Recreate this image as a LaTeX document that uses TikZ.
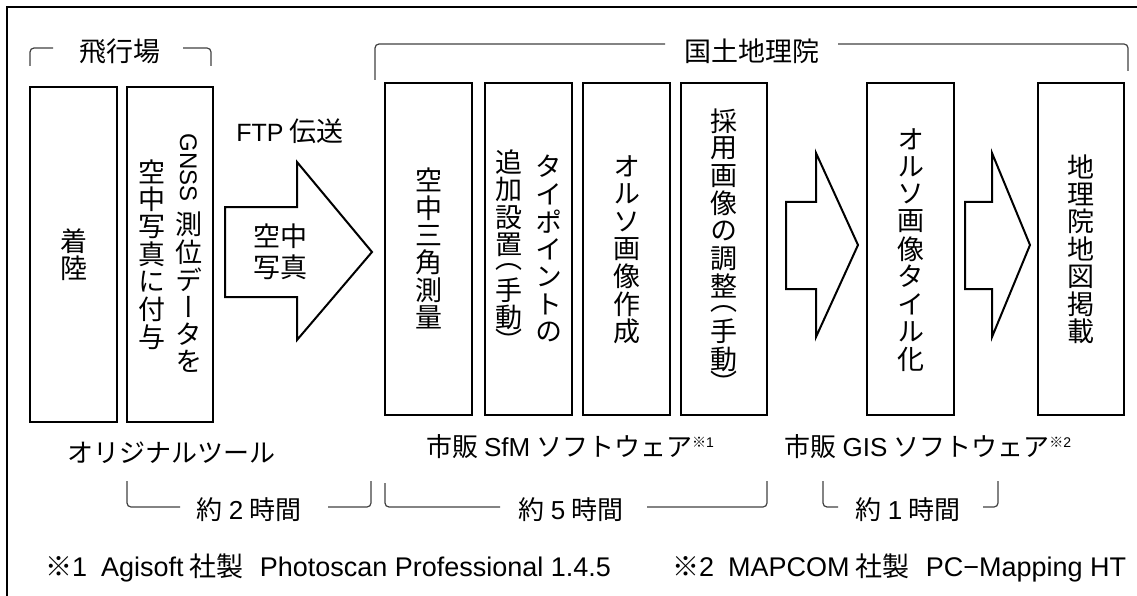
\documentclass[tikz,border=0pt]{standalone}
\usepackage{fontspec}
\usepackage{graphicx}
\setmainfont{Noto Sans CJK JP}
\newfontfamily\vfont[RawFeature=+vert]{Noto Sans CJK JP}
\newfontfamily\lat{Liberation Sans}
\newlength\pitch
\setlength\pitch{27.5pt}
\newcommand\K[1]{\vbox to \pitch{\vss\hbox to 30pt{\hss#1\hss}\vss}}
\newcommand\KH[2]{\vbox to #1{\vss\hbox to 30pt{\hss#2\hss}\vss}}
\newcommand\KN[1]{\hbox to 30pt{\hss#1\hss}}
\newcommand\vcol[1]{$\vcenter{\offinterlineskip#1}$}
\newcommand\sups[1]{\raisebox{9pt}{\fontsize{14}{14}\selectfont ※{\lat #1}}}
\tikzset{
  boxA/.style={draw, line width=2pt, minimum width=87pt, minimum height=335pt, inner sep=0pt,
    font=\vfont\fontsize{27}{27}\selectfont},
  boxB/.style={boxA, minimum height=332pt},
  blk/.style={draw, line width=2pt, fill=white, line join=miter},
  brk/.style={line width=1.2pt, draw=black!75, rounded corners=4pt},
  lbl/.style={inner sep=0pt, font=\fontsize{27}{31}\selectfont},
  lblb/.style={inner sep=0pt, font=\fontsize{26}{30}\selectfont},
  lblf/.style={inner sep=0pt, font=\fontsize{27}{30}\selectfont},
  frm/.style={line width=2pt}
}
\begin{document}
\begin{tikzpicture}[x=1pt,y=-1pt]
\useasboundingbox (0,0) rectangle (1137,596);
% frame
\coordinate (f0) at (7,600);
\coordinate (f1) at (7,7);
\coordinate (f2) at (1140,7);
\draw[frm] (f0) -- (f1) -- (f2);

% boxes
\node[boxA] (b1) at (73.5,254.5) {\vcol{\K{着}\K{陸}}};
\node[boxA, minimum width=86pt] (b2) at (170,254.5) {\vcol{\K{空}\K{中}\K{写}\K{真}\K{に}\K{付}\K{与}}\hspace{7pt}\vcol{\KN{\rotatebox{-90}{\lat\fontsize{24}{24}\selectfont GNSS}}\kern9pt\K{測}\K{位}\K{デ}\K{ー}\K{タ}\K{を}}};
\node[boxB] (b3) at (428.5,249) {\vcol{\K{空}\K{中}\K{三}\K{角}\K{測}\K{量}}};
\node[boxB] (b4) at (528.5,249) {\vcol{\K{追}\K{加}\K{設}\K{置}\KH{18pt}{（}\K{手}\K{動}\KH{18pt}{）}}\hspace{10pt}\vcol{\K{タ}\K{イ}\K{ポ}\K{イ}\K{ン}\K{ト}\K{の}}};
\node[boxB] (b5) at (626.5,249) {\vcol{\K{オ}\K{ル}\K{ソ}\K{画}\K{像}\K{作}\K{成}}};
\node[boxB, minimum width=86pt] (b6) at (724,249) {\vcol{\K{採}\K{用}\K{画}\K{像}\K{の}\K{調}\K{整}\KH{18pt}{（}\K{手}\K{動}\KH{18pt}{）}}};
\node[boxB] (b7) at (910.5,249) {\vcol{\K{オ}\K{ル}\K{ソ}\K{画}\K{像}\K{タ}\K{イ}\K{ル}\K{化}}};
\node[boxB, minimum width=86pt] (b8) at (1081,249) {\vcol{\K{地}\K{理}\K{院}\K{地}\K{図}\K{掲}\K{載}}};

% block arrows
\draw[blk] (225,207) -- (297,207) -- (297,162) -- (372,252) -- (297,340) -- (297,297) -- (225,297) -- cycle;
\draw[blk] (786,202) -- (816,202) -- (816,153) -- (858,245) -- (816,337) -- (816,289) -- (786,289) -- cycle;
\draw[blk] (965,202) -- (992,202) -- (992,153) -- (1030,245) -- (992,337) -- (992,289) -- (965,289) -- cycle;
\node[lbl, align=center] (ak) at (280,252) {空中\\写真};
\node[lbl] (ftp) at (290,131) {{\lat\fontsize{25}{25}\selectfont FTP} 伝送};

% top brackets
\node[lbl] (hk) at (120,51) {飛行場};
\coordinate (h1) at (30,66); \coordinate (h2) at (53,48);
\coordinate (h3) at (183,48); \coordinate (h4) at (211,66);
\draw[brk] (h1) |- (h2);
\draw[brk] (h3) -| (h4);
\node[lbl] (kk) at (752,51) {国土地理院};
\coordinate (k1) at (375,80); \coordinate (k2) at (665,44);
\coordinate (k3) at (838,44); \coordinate (k4) at (1128,71);
\draw[brk] (k1) |- (k2);
\draw[brk] (k3) -| (k4);

% bottom labels
\node[lblb] (ot) at (171,453) {オリジナルツール};
\node[lblb] (sfm) at (570,447) {市販 {\lat SfM} ソフトウェア\sups{1}};
\node[lblb] (gis) at (928,447) {市販 {\lat GIS} ソフトウェア\sups{2}};

% bottom brackets
\node[lblb] (t2) at (249,510) {約 {\lat 2} 時間};
\coordinate (p1) at (127,481); \coordinate (p2) at (180,507);
\coordinate (p3) at (328,507); \coordinate (p4) at (371,481);
\draw[brk] (p1) |- (p2);
\draw[brk] (p3) -| (p4);
\node[lblb] (t5) at (571,510) {約 {\lat 5} 時間};
\coordinate (q1) at (385,483); \coordinate (q2) at (500,507);
\coordinate (q3) at (647,507); \coordinate (q4) at (767,481);
\draw[brk] (q1) |- (q2);
\draw[brk] (q3) -| (q4);
\node[lblb] (t1) at (908,510) {約 {\lat 1} 時間};
\coordinate (r1) at (823,481); \coordinate (r2) at (838,507);
\coordinate (r3) at (983,507); \coordinate (r4) at (998,481);
\draw[brk] (r1) |- (r2);
\draw[brk] (r3) -| (r4);

% footnotes
\node[lblf, anchor=west] (fn1) at (45,568) {※{\lat 1}\hspace{14pt}{\lat Agisoft} 社製\hspace{16pt}{\lat Photoscan Professional 1.4.5}};
\node[lblf, anchor=west] (fn2) at (672,568) {※{\lat 2}\hspace{14pt}{\lat MAPCOM} 社製\hspace{16pt}{\lat PC−Mapping HT}};
\end{tikzpicture}
\end{document}
